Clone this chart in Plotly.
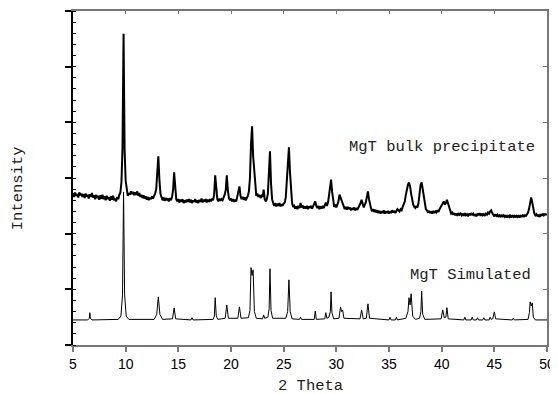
import numpy as np
import plotly.graph_objects as go

# ---- data ----
two_theta_ticks = [5, 10, 15, 20, 25, 30, 35, 40, 45, 50]

# simulated pattern (vertices of the line)
sim_x = [5.0, 6.4, 6.55, 6.6, 6.65, 6.8, 9.3, 9.55, 9.7, 9.8, 9.9, 10.05, 10.3,
         12.7, 12.95, 13.1, 13.25, 13.5, 14.45, 14.6, 14.75, 16.2, 16.3, 16.4,
         18.3, 18.42, 18.5, 18.6, 18.75, 19.45, 19.6, 19.75, 20.65, 20.8, 20.95,
         21.65, 21.8, 21.9, 22.0, 22.1, 22.22, 22.4, 23.0, 23.1, 23.2, 23.5, 23.62,
         23.7, 23.8, 23.95, 25.2, 25.38, 25.5, 25.62, 25.8, 26.5, 26.6, 26.7,
         27.9, 28.0, 28.1, 28.9, 29.0, 29.1, 29.3, 29.43, 29.5, 29.58, 29.75,
         30.25, 30.4, 30.5, 30.6, 30.72, 32.25, 32.4, 32.55, 32.85, 33.0, 33.15,
         35.0, 35.1, 35.2, 35.6, 35.7, 35.8, 36.6, 36.8, 36.9, 37.0, 37.1, 37.25,
         37.5, 37.9, 38.03, 38.1, 38.2, 38.4, 39.95, 40.1, 40.25, 40.4, 40.5,
         40.62, 42.1, 42.2, 42.3, 42.8, 42.9, 43.0, 43.3, 43.4, 43.5, 43.9, 44.0,
         44.1, 44.5, 44.6, 44.7, 44.85, 45.0, 45.12, 46.7, 46.8, 46.9, 48.2,
         48.33, 48.4, 48.5, 48.6, 48.7, 48.9, 50.0]
sim_y = [0.45, 0.45, 0.48, 0.58, 0.48, 0.45, 0.46, 0.52, 0.9, 2.75, 0.9, 0.52, 0.46,
         0.46, 0.55, 0.865, 0.55, 0.46, 0.47, 0.667, 0.47, 0.45, 0.49, 0.45,
         0.46, 0.52, 0.85, 0.52, 0.46, 0.48, 0.72, 0.48, 0.48, 0.685, 0.48,
         0.49, 0.62, 1.39, 1.25, 1.35, 0.6, 0.48, 0.47, 0.54, 0.48, 0.5, 0.65,
         1.37, 0.62, 0.48, 0.48, 0.6, 1.17, 0.6, 0.47, 0.46, 0.5, 0.46,
         0.46, 0.61, 0.46, 0.47, 0.58, 0.48, 0.5, 0.6, 0.955, 0.58, 0.47,
         0.48, 0.685, 0.6, 0.63, 0.48, 0.47, 0.63, 0.47, 0.48, 0.74, 0.48,
         0.45, 0.5, 0.45, 0.45, 0.5, 0.45, 0.48, 0.6, 0.85, 0.72, 0.92, 0.52,
         0.46, 0.48, 0.6, 0.97, 0.55, 0.46, 0.47, 0.63, 0.49, 0.5, 0.67,
         0.47, 0.45, 0.5, 0.45, 0.45, 0.5, 0.45, 0.45, 0.49, 0.45, 0.45, 0.49,
         0.45, 0.45, 0.5, 0.46, 0.47, 0.595, 0.47, 0.45, 0.48, 0.45, 0.46,
         0.58, 0.775, 0.7, 0.757, 0.5, 0.45, 0.45]

# bulk precipitate pattern, one value every 0.1 degree from 5.0 to 50.0
bulk_y = [
    2.73, 2.66, 2.74, 2.68, 2.71, 2.65, 2.74, 2.69, 2.72, 2.66,  # 5
    2.71, 2.64, 2.72, 2.67, 2.70, 2.63, 2.71, 2.66, 2.73, 2.65,  # 6
    2.69, 2.62, 2.70, 2.64, 2.68, 2.61, 2.69, 2.63, 2.70, 2.62,  # 7
    2.67, 2.60, 2.68, 2.62, 2.66, 2.59, 2.67, 2.61, 2.68, 2.60,  # 8
    2.63, 2.58, 2.66, 2.62, 2.70, 2.74, 2.92, 3.55, 5.59, 3.50,  # 9
    2.95, 2.74, 2.68, 2.73, 2.70, 2.76, 2.71, 2.75, 2.69, 2.74,  # 10
    2.70, 2.76, 2.68, 2.73, 2.66, 2.70, 2.64, 2.69, 2.63, 2.67,  # 11
    2.61, 2.66, 2.60, 2.65, 2.62, 2.67, 2.63, 2.68, 2.72, 2.80,  # 12
    3.05, 3.39, 2.98, 2.72, 2.66, 2.60, 2.65, 2.59, 2.64, 2.60,  # 13
    2.63, 2.58, 2.64, 2.60, 2.66, 2.78, 3.10, 2.76, 2.62, 2.58,  # 14
    2.62, 2.56, 2.61, 2.57, 2.62, 2.55, 2.60, 2.56, 2.61, 2.57,  # 15
    2.62, 2.56, 2.61, 2.55, 2.60, 2.57, 2.62, 2.56, 2.60, 2.55,  # 16
    2.61, 2.57, 2.63, 2.56, 2.61, 2.58, 2.62, 2.56, 2.61, 2.57,  # 17
    2.62, 2.58, 2.63, 2.60, 2.70, 3.05, 2.75, 2.62, 2.58, 2.63,  # 18
    2.59, 2.62, 2.60, 2.64, 2.70, 2.78, 3.05, 2.78, 2.64, 2.60,  # 19
    2.63, 2.58, 2.62, 2.57, 2.61, 2.58, 2.66, 2.75, 2.85, 2.68,  # 20
    2.62, 2.66, 2.61, 2.65, 2.60, 2.64, 2.68, 2.76, 3.00, 3.60,  # 21
    3.93, 3.40, 3.10, 2.80, 2.68, 2.72, 2.66, 2.70, 2.64, 2.68,  # 22
    2.66, 2.79, 2.62, 2.58, 2.62, 2.72, 3.05, 3.48, 2.90, 2.62,  # 23
    2.55, 2.50, 2.55, 2.49, 2.54, 2.50, 2.55, 2.49, 2.53, 2.50,  # 24
    2.54, 2.56, 2.65, 2.95, 3.30, 3.55, 3.10, 2.70, 2.55, 2.48,  # 25
    2.50, 2.45, 2.49, 2.44, 2.50, 2.46, 2.55, 2.47, 2.51, 2.45,  # 26
    2.49, 2.45, 2.50, 2.44, 2.49, 2.46, 2.50, 2.45, 2.49, 2.52,  # 27
    2.58, 2.50, 2.46, 2.50, 2.44, 2.49, 2.45, 2.50, 2.46, 2.51,  # 28
    2.56, 2.50, 2.55, 2.68, 2.85, 2.97, 2.75, 2.56, 2.48, 2.52,  # 29
    2.47, 2.52, 2.58, 2.70, 2.64, 2.62, 2.55, 2.48, 2.44, 2.48,  # 30
    2.43, 2.48, 2.44, 2.47, 2.42, 2.46, 2.43, 2.47, 2.42, 2.46,  # 31
    2.43, 2.47, 2.50, 2.55, 2.61, 2.52, 2.47, 2.52, 2.56, 2.66,  # 32
    2.76, 2.62, 2.52, 2.45, 2.40, 2.44, 2.39, 2.43, 2.38, 2.42,  # 33
    2.37, 2.41, 2.36, 2.40, 2.37, 2.42, 2.36, 2.40, 2.37, 2.41,  # 34
    2.36, 2.40, 2.37, 2.42, 2.38, 2.41, 2.37, 2.40, 2.44, 2.42,  # 35
    2.40, 2.44, 2.42, 2.48, 2.52, 2.58, 2.70, 2.84, 2.88, 2.92,  # 36
    2.85, 2.72, 2.60, 2.52, 2.48, 2.46, 2.50, 2.47, 2.55, 2.70,  # 37
    2.88, 2.92, 2.80, 2.62, 2.50, 2.44, 2.42, 2.38, 2.41, 2.37,  # 38
    2.40, 2.36, 2.41, 2.37, 2.40, 2.38, 2.42, 2.39, 2.44, 2.48,  # 39
    2.52, 2.56, 2.58, 2.52, 2.55, 2.61, 2.54, 2.46, 2.40, 2.36,  # 40
    2.38, 2.34, 2.37, 2.33, 2.36, 2.32, 2.37, 2.34, 2.36, 2.33,  # 41
    2.36, 2.32, 2.37, 2.33, 2.35, 2.31, 2.36, 2.33, 2.37, 2.34,  # 42
    2.36, 2.32, 2.35, 2.31, 2.36, 2.33, 2.37, 2.32, 2.36, 2.33,  # 43
    2.35, 2.32, 2.36, 2.34, 2.38, 2.36, 2.40, 2.42, 2.37, 2.34,  # 44
    2.31, 2.35, 2.32, 2.34, 2.30, 2.33, 2.31, 2.34, 2.30, 2.33,  # 45
    2.30, 2.33, 2.29, 2.32, 2.30, 2.34, 2.29, 2.32, 2.30, 2.33,  # 46
    2.29, 2.32, 2.30, 2.33, 2.29, 2.32, 2.31, 2.34, 2.30, 2.33,  # 47
    2.32, 2.35, 2.38, 2.45, 2.58, 2.65, 2.56, 2.42, 2.36, 2.33,  # 48
    2.35, 2.31, 2.34, 2.30, 2.35, 2.32, 2.36, 2.33, 2.35, 2.34,  # 49
    2.35,                                                        # 50
]
bulk_x = np.round(np.linspace(5.0, 50.0, len(bulk_y)), 1)

labels = ["MgT bulk precipitate", "MgT Simulated"]
x_title = "2 Theta"
y_title = "Intensity"

# ---- figure ----
MONO = "Liberation Mono, Courier New, monospace"
SANS = "Liberation Sans, Arial, sans-serif"
GREY = "#777777"

fig = go.Figure()
fig.add_trace(go.Scatter(x=sim_x, y=sim_y, mode="lines",
                         line=dict(color="black", width=1), hoverinfo="skip"))
fig.add_trace(go.Scatter(x=bulk_x, y=bulk_y, mode="lines",
                         line=dict(color="black", width=2), hoverinfo="skip"))
# invisible trace to carry the top / right frame axes
fig.add_trace(go.Scatter(x=[5, 50], y=[0, 6], xaxis="x2", yaxis="y2",
                         mode="markers", marker=dict(opacity=0), hoverinfo="skip"))

fig.update_layout(
    width=550, height=386,
    margin=dict(l=65, r=9, t=3, b=49),
    paper_bgcolor="white", plot_bgcolor="white",
    showlegend=False,
    xaxis=dict(range=[5, 50], tickvals=two_theta_ticks, ticktext=[str(v) for v in two_theta_ticks],
               ticks="outside", ticklen=5, tickwidth=1.5, tickcolor=GREY,
               showline=True, linecolor=GREY, linewidth=2, showgrid=False, zeroline=False,
               tickfont=dict(family=SANS, size=14, color="black")),
    xaxis2=dict(range=[5, 50], overlaying="x", side="top", tickvals=two_theta_ticks,
                ticks="inside", ticklen=3, tickwidth=1, tickcolor=GREY,
                showticklabels=False, showline=True, linecolor=GREY, linewidth=2,
                showgrid=False, zeroline=False),
    yaxis=dict(range=[0, 6], dtick=1, ticks="outside", ticklen=6, tickwidth=1.5,
               tickcolor="black", showticklabels=False,
               minor=dict(dtick=0.2, ticks="inside", ticklen=3, tickwidth=1, tickcolor="black"),
               showline=True, linecolor="black", linewidth=1.5, showgrid=False, zeroline=False),
    yaxis2=dict(range=[0, 6], overlaying="y", side="right", dtick=1,
                ticks="inside", ticklen=4, tickwidth=1, tickcolor=GREY,
                showticklabels=False, showline=True, linecolor=GREY, linewidth=2,
                showgrid=False, zeroline=False),
    annotations=[
        dict(x=31.0, y=3.56, xref="x", yref="y", text=labels[0], showarrow=False,
             xanchor="left", yanchor="middle", font=dict(family=MONO, size=15.5, color="#222")),
        dict(x=36.85, y=1.26, xref="x", yref="y", text=labels[1], showarrow=False,
             xanchor="left", yanchor="middle", font=dict(family=MONO, size=15.5, color="#222")),
        dict(x=0.5, y=-0.122, xref="paper", yref="paper", text=x_title, showarrow=False,
             xanchor="center", yanchor="middle", font=dict(family=MONO, size=15.5, color="#222")),
        dict(x=-0.1155, y=0.47, xref="paper", yref="paper", text=y_title, showarrow=False,
             textangle=-90, xanchor="center", yanchor="middle",
             font=dict(family=MONO, size=15.5, color="#222")),
    ],
)

fig.write_html("out.html")
